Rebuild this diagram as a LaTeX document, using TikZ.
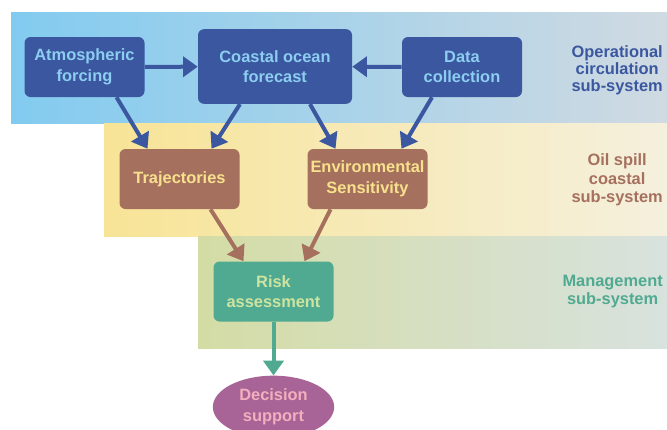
\documentclass[tikz,border=0pt]{standalone}
\usepackage{fontspec}
\setmainfont{Liberation Sans}
\usepackage{xcolor}
\usetikzlibrary{shapes.geometric,arrows.meta,calc}

\definecolor{opblue}{RGB}{58,87,160}
\definecolor{optext}{RGB}{140,205,240}
\definecolor{spillbrown}{RGB}{166,112,94}
\definecolor{spilltext}{RGB}{248,225,140}
\definecolor{mangreen}{RGB}{80,170,145}
\definecolor{mantext}{RGB}{205,228,160}
\definecolor{decpurple}{RGB}{168,100,150}
\definecolor{dectext}{RGB}{242,175,190}

\begin{document}
\begin{tikzpicture}[x=0.75pt,y=-0.75pt,
  font=\fontsize{12.3}{15.5}\selectfont\bfseries,
  box/.style={rectangle, rounded corners=4.5pt, align=center, inner xsep=0pt,
    minimum width=90pt, minimum height=45pt},
  opbox/.style={box, fill=opblue, text=optext},
  spillbox/.style={box, fill=spillbrown, text=spilltext},
  manbox/.style={box, fill=mangreen, text=mantext},
  flow/.style={line width=3pt, -{Triangle[width=15pt,length=11pt]}},
  tag/.style={align=center, anchor=east, inner sep=0pt}]
\useasboundingbox (0,0) rectangle (667,429);

\shade[left color={rgb,255:red,130;green,203;blue,240}, right color={rgb,255:red,208;green,218;blue,226}]
  (11,12) rectangle (667,123);
\shade[left color={rgb,255:red,248;green,228;blue,150}, right color={rgb,255:red,245;green,240;blue,222}]
  (104,123) rectangle (667,236);
\shade[left color={rgb,255:red,212;green,220;blue,165}, right color={rgb,255:red,216;green,226;blue,222}]
  (198,236) rectangle (667,348);

\node[opbox] (atm) at (84.5,67) {Atmospheric\\forcing};
\node[opbox, minimum width=115.5pt, minimum height=56pt] (coast) at (275,66.5) {Coastal ocean\\forecast};
\node[opbox] (data) at (462,67) {Data\\collection};
\node[spillbox] (traj) at (179.5,179) {Trajectories};
\node[spillbox] (env) at (367.5,179) {Environmental\\Sensitivity};
\node[manbox] (risk) at (273.5,291.5) {Risk\\assessment};
\node[ellipse, fill=decpurple, text=dectext, align=center, inner sep=0pt,
  minimum width=91pt, minimum height=47pt] (dec) at (273.5,407) {Decision\\support};

\node[tag, text=opblue, font=\fontsize{12.3}{12.8}\selectfont\bfseries] (optag) at (663,70) {Operational\\circulation\\sub-system};
\node[tag, text=spillbrown, font=\fontsize{12.3}{13.9}\selectfont\bfseries] (spilltag) at (663,180) {Oil spill\\coastal\\sub-system};
\node[tag, text=mangreen, font=\fontsize{12.3}{13.5}\selectfont\bfseries] (mantag) at (663,292) {Management\\sub-system};

\draw[flow, opblue] (atm) -- (coast);
\draw[flow, opblue] (data) -- (coast);
\draw[flow, opblue] ($(atm.south)+(32,0)$) -- ($(traj.north)+(-32,0)$);
\draw[flow, opblue] ($(coast.south)+(-35,0)$) -- ($(traj.north)+(32,0)$);
\draw[flow, opblue] ($(coast.south)+(35,0)$) -- ($(env.north)+(-32,0)$);
\draw[flow, opblue] ($(data.south)+(-30,0)$) -- ($(env.north)+(34,0)$);
\draw[flow, spillbrown] ($(traj.south)+(31,0)$) -- ($(risk.north)+(-30,0)$);
\draw[flow, spillbrown] ($(env.south)+(-37,0)$) -- ($(risk.north)+(31,0)$);
\draw[flow, mangreen] (risk) -- (dec);
\end{tikzpicture}
\end{document}
